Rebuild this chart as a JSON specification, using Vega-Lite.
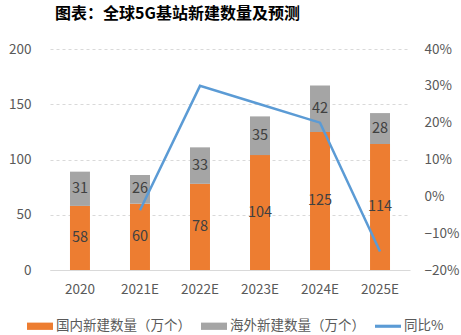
{
  "$schema": "https://vega.github.io/schema/vega-lite/v6.json",
  "width": 360,
  "height": 221,
  "autosize": {"type": "none"},
  "padding": {"left": 50, "top": 49, "right": 51, "bottom": 65},
  "background": "white",
  "config": {"font": "Noto Sans CJK SC", "view": {"stroke": null}},
  "title": {"text": "图表：全球5G基站新建数量及预测", "anchor": "start", "frame": "group", "dx": 5, "fontSize": 16, "fontWeight": "bold", "color": "#000000", "offset": 20},
  "data": {"values": [
    {"year": "2020", "国内新建数量（万个）": 58, "海外新建数量（万个）": 31, "yoy": null},
    {"year": "2021E", "国内新建数量（万个）": 60, "海外新建数量（万个）": 26, "yoy": -0.038},
    {"year": "2022E", "国内新建数量（万个）": 78, "海外新建数量（万个）": 33, "yoy": 0.30},
    {"year": "2023E", "国内新建数量（万个）": 104, "海外新建数量（万个）": 35, "yoy": 0.25},
    {"year": "2024E", "国内新建数量（万个）": 125, "海外新建数量（万个）": 42, "yoy": 0.20},
    {"year": "2025E", "国内新建数量（万个）": 114, "海外新建数量（万个）": 28, "yoy": -0.15}
  ]},
  "encoding": {
    "x": {"field": "year", "type": "ordinal", "sort": null, "title": null,
      "scale": {"paddingInner": 0.667, "paddingOuter": 0.333},
      "axis": {"labelAngle": 0, "ticks": false, "domainColor": "#d9d9d9", "labelColor": "#595959", "labelFontSize": 13.5, "labelPadding": 12, "grid": false}}
  },
  "layer": [
    {
      "transform": [{"fold": ["国内新建数量（万个）", "海外新建数量（万个）"], "as": ["type", "value"]}],
      "encoding": {
        "y": {"field": "value", "type": "quantitative", "stack": "zero", "title": null,
          "scale": {"domain": [0, 200], "nice": false},
          "axis": {"values": [0, 50, 100, 150, 200], "ticks": false, "domain": false, "grid": true, "gridColor": "#d9d9d9", "gridDash": [3, 3], "labelColor": "#595959", "labelFontSize": 13.5, "labelPadding": 19}}
      },
      "layer": [
        {
          "mark": {"type": "bar"},
          "encoding": {
            "color": {"field": "type", "type": "nominal", "title": null,
              "scale": {"domain": ["国内新建数量（万个）", "海外新建数量（万个）", "同比%"], "range": ["#ED7D31", "#A5A5A5", "#5B9BD5"]},
              "legend": {"orient": "none", "direction": "horizontal", "legendX": -23, "legendY": 264, "labelFontSize": 13.5, "labelColor": "#595959", "symbolSize": 676, "labelOffset": 3, "columnPadding": 10, "symbolStrokeWidth": 0,
                "encode": {"symbols": {"update": {
                  "shape": {"signal": "datum.value === '同比%' ? 'M-1,-0.12H1V0.12H-1Z' : 'M-1,-0.28H1V0.28H-1Z'"},
                  "fill": {"scale": "color", "field": "value"},
                  "stroke": {"value": "transparent"},
                  "strokeWidth": {"value": 0}
                }}}}
            },
            "order": {"field": "type"}
          }
        },
        {
          "mark": {"type": "text", "fontSize": 14.5, "color": "#404040"},
          "encoding": {
            "y": {"field": "value", "type": "quantitative", "stack": "zero", "bandPosition": 0.5},
            "detail": {"field": "type"},
            "order": {"field": "type"},
            "text": {"field": "value", "type": "quantitative"}
          }
        }
      ]
    },
    {
      "transform": [{"filter": "datum.yoy != null"}],
      "mark": {"type": "line", "strokeWidth": 2.5},
      "encoding": {
        "y": {"field": "yoy", "type": "quantitative", "title": null,
          "scale": {"domain": [-0.2, 0.4], "nice": false, "zero": false},
          "axis": {"orient": "right", "values": [-0.2, -0.1, 0, 0.1, 0.2, 0.3, 0.4], "format": ".0%", "ticks": false, "domain": false, "grid": false, "labelColor": "#595959", "labelFontSize": 13.5, "labelPadding": 14}},
        "color": {"datum": "同比%"}
      }
    }
  ],
  "resolve": {"scale": {"y": "independent"}}
}
